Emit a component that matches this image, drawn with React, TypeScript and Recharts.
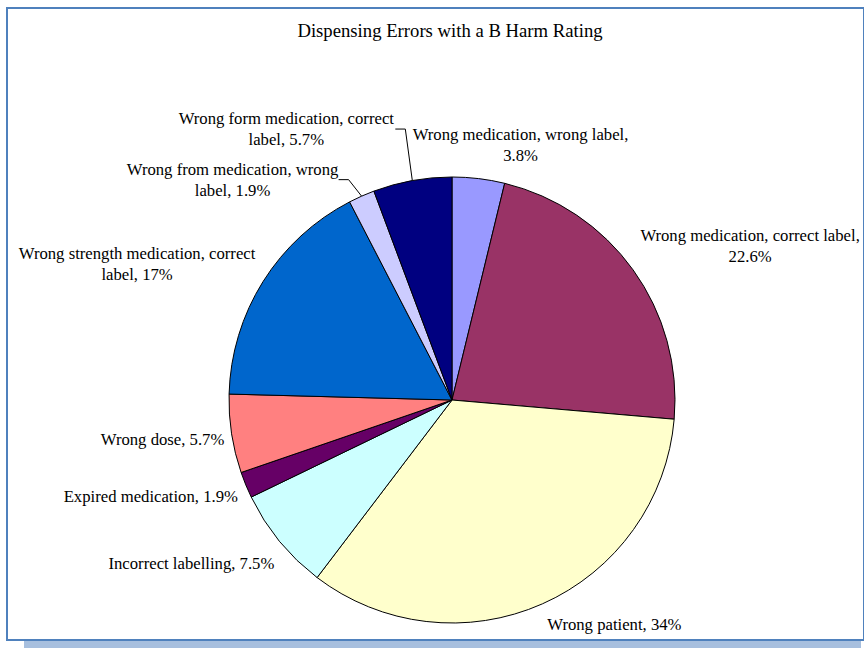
import React from "react";
import { PieChart, Pie, Cell } from "recharts";

const categories = [
  "Wrong medication, wrong label",
  "Wrong medication, correct label",
  "Wrong patient",
  "Incorrect labelling",
  "Expired medication",
  "Wrong dose",
  "Wrong strength medication, correct label",
  "Wrong from medication, wrong label",
  "Wrong form medication, correct label",
];

const values = [3.8, 22.6, 34, 7.5, 1.9, 5.7, 17, 1.9, 5.7];

const colors = [
  "#9999FF",
  "#993366",
  "#FFFFCC",
  "#CCFFFF",
  "#660066",
  "#FF8080",
  "#0066CC",
  "#CCCCFF",
  "#000080",
];

const title = "Dispensing Errors with a B Harm Rating";

// label layout: offset of label centre from slice outer midpoint, words on first line, leader
const labelLayout = [
  { dx: 42, dy: -44, firstLineWords: 4, leader: null as null | number },
  { dx: 117, dy: -34, firstLineWords: 4, leader: null },
  { dx: 72, dy: 21, firstLineWords: 0, leader: null },
  { dx: -88, dy: 22, firstLineWords: 0, leader: null },
  { dx: -95, dy: 12, firstLineWords: 0, leader: null },
  { dx: -69, dy: 6, firstLineWords: 0, leader: null },
  { dx: -126, dy: -28, firstLineWords: 4, leader: null },
  { dx: -129, dy: -27, firstLineWords: 4, leader: 106 },
  { dx: -126, dy: -62, firstLineWords: 4, leader: 109 },
];

const data = categories.map((name, i) => ({ name, value: values[i] }));

const FONT = '"Liberation Serif", "Times New Roman", serif';
const LINE_H = 21;
const RADIAN = Math.PI / 180;

const renderLabel = (props: any) => {
  const { cx, cy, midAngle, outerRadius, index } = props;
  const layout = labelLayout[index];
  const mx = cx + Math.cos(-midAngle * RADIAN) * outerRadius;
  const my = cy + Math.sin(-midAngle * RADIAN) * outerRadius;
  const full = `${categories[index]}, ${values[index]}%`;
  const words = full.split(" ");
  const lines =
    layout.firstLineWords > 0
      ? [
          words.slice(0, layout.firstLineWords).join(" "),
          words.slice(layout.firstLineWords).join(" "),
        ]
      : [full];
  const lx = mx + layout.dx;
  const ly = my + layout.dy;
  let leader = null;
  if (layout.leader !== null) {
    const sx = lx + layout.leader;
    const sy = ly + ((lines.length - 1) * LINE_H) / 2;
    leader = (
      <polyline
        points={`${sx},${sy} ${sx + 10},${sy} ${mx},${my}`}
        fill="none"
        stroke="#000"
        strokeWidth={1}
      />
    );
  }
  return (
    <g key={`lbl-${index}`}>
      {leader}
      {lines.map((t, k) => (
        <text
          key={k}
          x={lx}
          y={ly + k * LINE_H}
          textAnchor="middle"
          dominantBaseline="central"
          fontFamily={FONT}
          fontSize={16.7}
          fill="#000"
        >
          {t}
        </text>
      ))}
    </g>
  );
};

export default function App() {
  return (
    <div
      style={{
        position: "absolute",
        left: 0,
        top: 0,
        width: 864,
        height: 648,
        background: "#fff",
        overflow: "hidden",
      }}
    >
      <div
        style={{
          position: "absolute",
          left: 24,
          top: 640,
          width: 837,
          height: 8,
          background: "#A7BFDE",
        }}
      />
      <div
        style={{
          position: "absolute",
          left: 6,
          top: 7,
          width: 855,
          height: 630,
          border: "2px solid #4F81BD",
          background: "#fff",
        }}
      />
      <div
        style={{
          position: "absolute",
          left: 18,
          top: 20,
          width: 864,
          textAlign: "center",
          fontFamily: FONT,
          fontSize: 18.7,
          lineHeight: "22px",
          color: "#000",
        }}
      >
        {title}
      </div>
      <div style={{ position: "absolute", left: 0, top: 0 }}>
        <PieChart
          width={864}
          height={648}
          margin={{ top: 0, right: 0, bottom: 0, left: 0 }}
        >
          <Pie
            data={data}
            dataKey="value"
            nameKey="name"
            cx={452}
            cy={400}
            outerRadius={223}
            startAngle={90}
            endAngle={-270}
            stroke="#000"
            strokeWidth={1}
            label={renderLabel}
            labelLine={false}
            isAnimationActive={false}
          >
            {data.map((d, i) => (
              <Cell key={d.name} fill={colors[i]} />
            ))}
          </Pie>
        </PieChart>
      </div>
    </div>
  );
}
